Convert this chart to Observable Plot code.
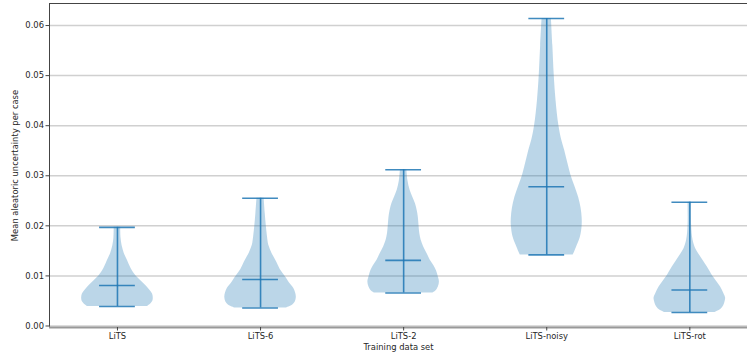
<!DOCTYPE html>
<html>
<head>
<meta charset="utf-8">
<script src="https://cdn.jsdelivr.net/npm/d3@7"></script>
<script src="https://cdn.jsdelivr.net/npm/@observablehq/plot@0.6"></script>
<style>
  body { margin: 0; background: #fff; }
  #chart svg { display: block; }
</style>
</head>
<body>
<div id="chart"></div>
<script>
// Training data sets, one violin each
const categories = ["LiTS", "LiTS-6", "LiTS-2", "LiTS-noisy", "LiTS-rot"];

// Summary statistics of the mean aleatoric uncertainty per case
const minima  = [0.0039, 0.0036, 0.0066, 0.0142, 0.0027];
const medians = [0.0081, 0.0093, 0.0131, 0.0278, 0.0072];
const maxima  = [0.0197, 0.0255, 0.0312, 0.0614, 0.0247];

// Density outlines: [uncertainty level, half-width relative to widest point]
const litsProfile = [
  [0.0039, 0.84], [0.0044, 0.93], [0.0050, 0.99], [0.0057, 1.00], [0.0064, 0.98],
  [0.0072, 0.90], [0.0081, 0.79], [0.0090, 0.66], [0.0100, 0.52], [0.0115, 0.38],
  [0.0131, 0.28], [0.0145, 0.19], [0.0160, 0.13], [0.0175, 0.10], [0.0197, 0.09]
];
const lits6Profile = [
  [0.0036, 0.72], [0.0042, 0.90], [0.0048, 0.97], [0.0057, 1.00], [0.0066, 0.98],
  [0.0075, 0.93], [0.0085, 0.82], [0.0100, 0.68], [0.0113, 0.55], [0.0128, 0.45],
  [0.0145, 0.32], [0.0161, 0.23], [0.0180, 0.19], [0.0200, 0.16], [0.0225, 0.13],
  [0.0255, 0.10]
];
const lits2Profile = [
  [0.0066, 0.82], [0.0070, 0.90], [0.0078, 0.97], [0.0088, 1.00], [0.0098, 0.97],
  [0.0110, 0.92], [0.0120, 0.85], [0.0132, 0.74], [0.0144, 0.66], [0.0158, 0.56],
  [0.0171, 0.49], [0.0185, 0.45], [0.0200, 0.43], [0.0217, 0.41], [0.0230, 0.38],
  [0.0244, 0.33], [0.0258, 0.25], [0.0271, 0.18], [0.0290, 0.12], [0.0312, 0.09]
];
const litsNoisyProfile = [
  [0.0142, 0.74], [0.0150, 0.79], [0.0157, 0.83], [0.0177, 0.94], [0.0200, 0.99],
  [0.0215, 0.99], [0.0235, 0.96], [0.0257, 0.89], [0.0280, 0.78], [0.0300, 0.68],
  [0.0325, 0.59], [0.0351, 0.50], [0.0371, 0.42], [0.0400, 0.34], [0.0450, 0.26],
  [0.0500, 0.21], [0.0560, 0.17], [0.0614, 0.13]
];
const litsRotProfile = [
  [0.0027, 0.70], [0.0034, 0.88], [0.0041, 0.95], [0.0050, 0.99], [0.0056, 1.00],
  [0.0065, 0.95], [0.0078, 0.86], [0.0090, 0.74], [0.0100, 0.64], [0.0118, 0.49],
  [0.0131, 0.37], [0.0144, 0.25], [0.0155, 0.16], [0.0171, 0.09], [0.0200, 0.05],
  [0.0247, 0.05]
];
const profiles = [litsProfile, lits6Profile, lits2Profile, litsNoisyProfile, litsRotProfile];

// Axis ticks and titles
const yTicks = [0, 0.01, 0.02, 0.03, 0.04, 0.05, 0.06];
const xTitle = "Training data set";
const yTitle = "Mean aleatoric uncertainty per case";

// Layout constants
const halfWidth = 0.25;   // widest half-width of a violin, in position units
const barHalf = 0.125;    // half-length of the min / median / max bars
const blue = "#1f77b4";
const xDomain = [0.525, 5.403];
const yDomain = [-0.0003, 0.0644];

// Flattened outline rows, one series per violin
const outline = profiles.flatMap((p, i) =>
  p.map(([v, w]) => ({pos: i + 1, v, w, cat: categories[i]}))
);
const stats = categories.map((c, i) => ({
  pos: i + 1, min: minima[i], med: medians[i], max: maxima[i]
}));
const bars = stats.flatMap(s => [s.min, s.med, s.max].map(v => ({pos: s.pos, v})));

const chart = Plot.plot({
  width: 747,
  height: 355,
  marginLeft: 49,
  marginRight: 0,
  marginTop: 3,
  marginBottom: 28,
  style: {fontFamily: "DejaVu Sans", fontSize: "8.4px", color: "#262626", background: "#fff"},
  x: {type: "linear", domain: xDomain},
  y: {domain: yDomain},
  marks: [
    Plot.ruleY(yTicks, {stroke: "#d0d0d0", strokeWidth: 1.5}),
    Plot.areaX(outline, {
      z: "cat",
      y: "v",
      x1: d => d.pos - d.w * halfWidth,
      x2: d => d.pos + d.w * halfWidth,
      fill: blue,
      fillOpacity: 0.3,
      curve: "catmull-rom"
    }),
    Plot.ruleX(stats, {x: "pos", y1: "min", y2: "max", stroke: blue, strokeWidth: 1.6, strokeOpacity: 0.85}),
    Plot.ruleY(bars, {
      y: "v",
      x1: d => d.pos - barHalf,
      x2: d => d.pos + barHalf,
      stroke: blue, strokeWidth: 1.6, strokeOpacity: 0.85
    }),
    // spines
    Plot.ruleY([yDomain[1]], {stroke: "#444", strokeWidth: 1}),
    Plot.ruleX([xDomain[0]], {stroke: "#444", strokeWidth: 1}),
    Plot.ruleY([yDomain[0]], {stroke: "#999", strokeWidth: 2}),
    Plot.axisY(yTicks, {
      tickFormat: d3.format(".2f"), tickSize: 3.5, tickPadding: 2,
      label: null, stroke: "#444"
    }),
    Plot.axisX([1, 2, 3, 4, 5], {
      tickFormat: d => categories[d - 1], tickSize: 3.5, tickPadding: 2,
      label: null, stroke: "#444"
    }),
    Plot.text([yTitle], {frameAnchor: "left", dx: -34, rotate: -90, textAnchor: "middle", fill: "#262626"}),
    Plot.text([xTitle], {frameAnchor: "bottom", dy: 22.5, textAnchor: "middle", fill: "#262626"})
  ]
});

document.getElementById("chart").appendChild(chart);
</script>
</body>
</html>
